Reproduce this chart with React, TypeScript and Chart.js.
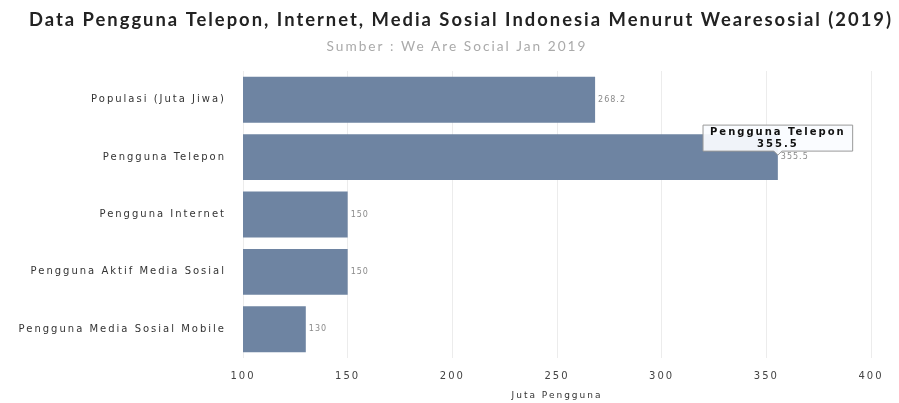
import React, { useEffect, useRef } from "react";
import { Chart, registerables } from "chart.js";

Chart.register(...registerables);

const titleText = "Data Pengguna Telepon, Internet, Media Sosial Indonesia Menurut Wearesosial (2019)";
const subtitleText = "Sumber : We Are Social Jan 2019";
const categories = [
  "Populasi (Juta Jiwa)",
  "Pengguna Telepon",
  "Pengguna Internet",
  "Pengguna Aktif Media Sosial",
  "Pengguna Media Sosial Mobile",
];
const values = [268.2, 355.5, 150, 150, 130];
const xTicks = [100, 150, 200, 250, 300, 350, 400];

const spacingPlugin = {
  id: "spacing",
  beforeUpdate(chart: any) {
    chart.ctx.letterSpacing = "2px";
  },
  beforeLayout(chart: any) {
    chart.ctx.letterSpacing = "2px";
  },
  beforeDraw(chart: any) {
    chart.ctx.letterSpacing = "2px";
  },
};

const headerPlugin = {
  id: "header",
  afterDraw(chart: any) {
    const ctx = chart.ctx;
    ctx.save();
    ctx.letterSpacing = "2px";
    ctx.textAlign = "center";
    ctx.textBaseline = "middle";
    ctx.fillStyle = "#222";
    ctx.font = "bold 18.4px Lato, sans-serif";
    ctx.fillText(titleText, 461, 20);
    ctx.fillStyle = "#aaa";
    ctx.font = "13.7px Lato, sans-serif";
    ctx.fillText(subtitleText, 457, 47);
    ctx.restore();
  },
};

const valueLabelPlugin = {
  id: "valueLabels",
  afterDatasetsDraw(chart: any) {
    const ctx = chart.ctx;
    const meta = chart.getDatasetMeta(0);
    ctx.save();
    ctx.letterSpacing = "1px";
    ctx.font = "8px 'DejaVu Sans', sans-serif";
    ctx.fillStyle = "#8a8a8a";
    ctx.textAlign = "left";
    ctx.textBaseline = "middle";
    meta.data.forEach((bar: any, i: number) => {
      ctx.fillText(String(values[i]), bar.x + 3, bar.y);
    });
    ctx.restore();
  },
};

export default function App() {
  const ref = useRef<HTMLCanvasElement>(null);
  useEffect(() => {
    document.body.style.margin = "0";
    const chart = new Chart(ref.current!, {
      type: "bar",
      data: {
        labels: categories,
        datasets: [
          {
            label: "Juta Pengguna",
            data: values,
            backgroundColor: "#6e84a2",
            borderWidth: 0,
            barPercentage: 0.8,
            categoryPercentage: 1,
          },
        ],
      },
      options: {
        indexAxis: "y",
        animation: false,
        responsive: true,
        maintainAspectRatio: false,
        layout: { padding: { left: 14, right: 28, top: 71, bottom: 0 } },
        scales: {
          x: {
            min: 100,
            max: 400,
            afterBuildTicks: (axis: any) => {
              axis.ticks = xTicks.map((v) => ({ value: v }));
            },
            afterFit: (scale: any) => {
              scale.height = 45;
            },
            grid: { color: "#ececec", drawTicks: false },
            border: { display: false },
            ticks: {
              padding: 12,
              color: "#444",
              font: { family: "'DejaVu Sans', sans-serif", size: 10 },
            },
            title: {
              display: true,
              text: "Juta Pengguna",
              color: "#333",
              font: { family: "'DejaVu Sans', sans-serif", size: 9 },
              padding: { top: 0, bottom: 2 },
            },
          },
          y: {
            afterFit: (scale: any) => {
              scale.width = 229;
            },
            grid: { display: false, drawTicks: false },
            border: { display: false },
            ticks: {
              padding: 17,
              color: "#333",
              font: { family: "'DejaVu Sans', sans-serif", size: 10 },
            },
          },
        },
        plugins: {
          legend: { display: false },
          title: { display: false },
          tooltip: {
            enabled: true,
            backgroundColor: "rgba(250,252,255,0.93)",
            borderColor: "#999",
            borderWidth: 1,
            titleColor: "#111",
            bodyColor: "#111",
            titleFont: { family: "'DejaVu Sans', sans-serif", size: 10, weight: "bold" },
            bodyFont: { family: "'DejaVu Sans', sans-serif", size: 10, weight: "bold" },
            titleAlign: "center",
            bodyAlign: "center",
            titleMarginBottom: 0,
            padding: { top: 1, bottom: 1, left: 7, right: 7 },
            cornerRadius: 0,
            displayColors: false,
            xAlign: "center",
            yAlign: "bottom",
            caretSize: 4,
            callbacks: {
              label: (c: any) => String(c.raw),
            },
          },
        },
      } as any,
      plugins: [spacingPlugin, valueLabelPlugin, headerPlugin],
    });
    const meta = chart.getDatasetMeta(0);
    const el: any = meta.data[1];
    chart.tooltip!.setActiveElements([{ datasetIndex: 0, index: 1 }], { x: el.x, y: el.y });
    chart.update();
    return () => chart.destroy();
  }, []);
  return (
    <div style={{ position: "relative", width: 899, height: 403 }}>
      <canvas ref={ref} />
    </div>
  );
}
